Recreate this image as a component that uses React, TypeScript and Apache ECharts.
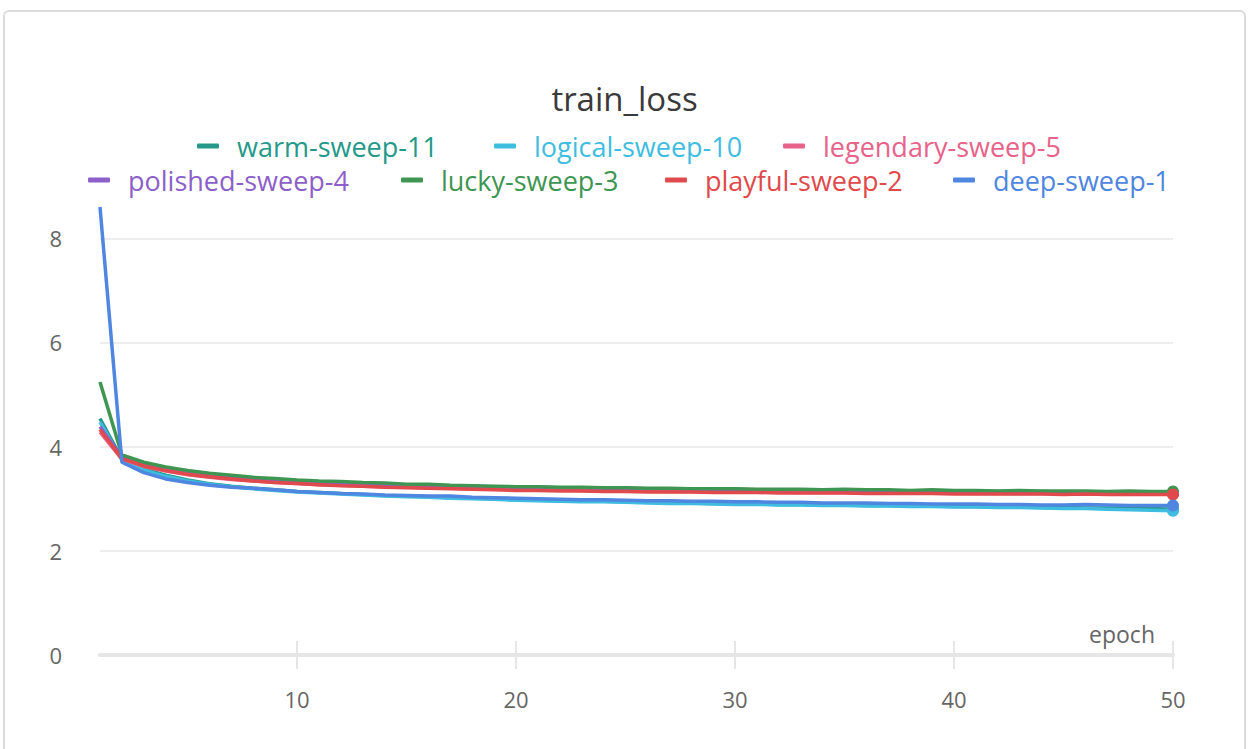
import React, { useEffect, useRef } from "react";
import * as echarts from "echarts";

// Training loss per epoch for each sweep run
const epochs = [
  1, 2, 3, 4, 5, 6, 7, 8, 9, 10, 11, 12, 13, 14, 15, 16, 17, 18, 19, 20, 21, 22, 23, 24, 25,
  26, 27, 28, 29, 30, 31, 32, 33, 34, 35, 36, 37, 38, 39, 40, 41, 42, 43, 44, 45, 46, 47, 48, 49, 50,
];

const warmSweep11 = [
  4.54, 3.76, 3.57, 3.45, 3.36, 3.29, 3.24, 3.2, 3.17, 3.14, 3.12, 3.1, 3.08, 3.06, 3.05, 3.04, 3.02,
  3.01, 3.0, 2.98, 2.97, 2.96, 2.95, 2.95, 2.94, 2.93, 2.92, 2.92, 2.91, 2.9, 2.9, 2.89, 2.89, 2.88,
  2.88, 2.87, 2.87, 2.86, 2.86, 2.85, 2.85, 2.84, 2.84, 2.83, 2.83, 2.82, 2.82, 2.81, 2.81, 2.8,
];
const logicalSweep10 = [
  4.47, 3.74, 3.55, 3.43, 3.34, 3.28, 3.23, 3.19, 3.16, 3.13, 3.11, 3.09, 3.07, 3.05, 3.04, 3.03, 3.01,
  3.0, 2.99, 2.97, 2.96, 2.95, 2.94, 2.94, 2.93, 2.92, 2.91, 2.91, 2.9, 2.89, 2.89, 2.88, 2.88, 2.87,
  2.87, 2.86, 2.86, 2.85, 2.85, 2.84, 2.84, 2.83, 2.83, 2.82, 2.81, 2.81, 2.8, 2.79, 2.78, 2.77,
];
const legendarySweep5 = [
  4.28, 3.76, 3.62, 3.53, 3.46, 3.41, 3.37, 3.34, 3.31, 3.29, 3.27, 3.26, 3.24, 3.23, 3.22, 3.21, 3.2,
  3.19, 3.18, 3.18, 3.17, 3.17, 3.16, 3.16, 3.15, 3.15, 3.14, 3.14, 3.14, 3.13, 3.13, 3.13, 3.12, 3.12,
  3.12, 3.12, 3.11, 3.11, 3.11, 3.11, 3.1, 3.1, 3.1, 3.1, 3.1, 3.09, 3.09, 3.09, 3.09, 3.09,
];
const polishedSweep4 = [
  4.38, 3.8, 3.67, 3.58, 3.51, 3.46, 3.42, 3.39, 3.36, 3.34, 3.32, 3.3, 3.29, 3.28, 3.27, 3.26, 3.25,
  3.24, 3.23, 3.22, 3.22, 3.21, 3.21, 3.2, 3.2, 3.19, 3.19, 3.18, 3.18, 3.18, 3.17, 3.17, 3.17, 3.16,
  3.16, 3.16, 3.15, 3.15, 3.15, 3.14, 3.14, 3.14, 3.13, 3.14, 3.13, 3.13, 3.13, 3.12, 3.12, 3.12,
];
const luckySweep3 = [
  5.24, 3.84, 3.7, 3.61, 3.54, 3.49, 3.45, 3.41, 3.39, 3.36, 3.34, 3.33, 3.31, 3.3, 3.28, 3.28, 3.26,
  3.25, 3.24, 3.23, 3.23, 3.22, 3.22, 3.21, 3.21, 3.2, 3.2, 3.19, 3.19, 3.19, 3.18, 3.18, 3.18, 3.17,
  3.18, 3.17, 3.17, 3.16, 3.17, 3.16, 3.16, 3.15, 3.16, 3.15, 3.15, 3.15, 3.14, 3.15, 3.14, 3.14,
];
const playfulSweep2 = [
  4.33, 3.77, 3.63, 3.54, 3.47, 3.42, 3.38, 3.34, 3.31, 3.29, 3.27, 3.25, 3.24, 3.22, 3.21, 3.2, 3.19,
  3.18, 3.17, 3.16, 3.16, 3.15, 3.15, 3.14, 3.14, 3.13, 3.13, 3.13, 3.12, 3.12, 3.12, 3.11, 3.11, 3.11,
  3.11, 3.1, 3.1, 3.1, 3.1, 3.09, 3.09, 3.09, 3.09, 3.09, 3.08, 3.09, 3.08, 3.08, 3.08, 3.08,
];
const deepSweep1 = [
  8.6, 3.7, 3.5, 3.38, 3.31, 3.26, 3.22, 3.2, 3.17, 3.14, 3.12, 3.1, 3.09, 3.07, 3.06, 3.05, 3.05,
  3.03, 3.02, 3.01, 3.0, 2.99, 2.98, 2.98, 2.97, 2.96, 2.96, 2.95, 2.95, 2.94, 2.94, 2.93, 2.93, 2.92,
  2.92, 2.92, 2.91, 2.91, 2.9, 2.9, 2.9, 2.89, 2.89, 2.88, 2.88, 2.89, 2.88, 2.87, 2.87, 2.87,
];

const runNames = [
  "warm-sweep-11",
  "logical-sweep-10",
  "legendary-sweep-5",
  "polished-sweep-4",
  "lucky-sweep-3",
  "playful-sweep-2",
  "deep-sweep-1",
];
const runValues = [
  warmSweep11,
  logicalSweep10,
  legendarySweep5,
  polishedSweep4,
  luckySweep3,
  playfulSweep2,
  deepSweep1,
];
const runColors = ["#24998a", "#3fbde0", "#e8638a", "#8d5fc9", "#3f9652", "#e04a4c", "#4f86e0"];

const xTicks = [10, 20, 30, 40, 50];
const yTicks = [0, 2, 4, 6, 8];

// legend entry placement (icon left edge, row top)
const legendSpots = [
  [197, 131],
  [494, 131],
  [783, 131],
  [88, 165],
  [401, 165],
  [665, 165],
  [953, 165],
];

const FONT = "'Open Sans', 'Noto Sans', sans-serif";

export default function App() {
  const ref = useRef<HTMLDivElement>(null);

  useEffect(() => {
    if (!ref.current) return;
    const chart = echarts.init(ref.current, undefined, { renderer: "svg" });

    const series = runNames.map((name, i) => {
      const vals = runValues[i];
      return {
        name,
        type: "line",
        color: runColors[i],
        symbol: "none",
        showSymbol: true,
        lineStyle: { width: 3.5, color: runColors[i] },
        itemStyle: { color: runColors[i] },
        z: 2 + i,
        data: vals.map((v, k) =>
          k === vals.length - 1
            ? { value: [epochs[k], v], symbol: "circle", symbolSize: 12 }
            : { value: [epochs[k], v] }
        ),
      };
    });

    const legends = runNames.map((name, i) => ({
      data: [name],
      left: legendSpots[i][0],
      top: legendSpots[i][1],
      padding: 0,
      icon: "roundRect",
      itemWidth: 22,
      itemHeight: 5,
      selectedMode: false,
      textStyle: {
        color: runColors[i],
        fontSize: 27,
        fontFamily: FONT,
        lineHeight: 30,
        padding: [0, 0, 0, 13],
      },
    }));

    chart.setOption({
      animation: false,
      backgroundColor: "transparent",
      textStyle: { fontFamily: FONT },
      title: {
        text: "train_loss",
        left: "center",
        top: 82,
        padding: 0,
        textStyle: { fontSize: 33, fontWeight: "normal", color: "#3a3a3a", fontFamily: FONT },
      },
      legend: legends,
      grid: { left: 100, right: 76, top: 207, bottom: 94 },
      xAxis: [
        {
          type: "value",
          min: 1,
          max: 50,
          name: "epoch",
          nameLocation: "end",
          nameGap: 0,
          nameTextStyle: {
            fontSize: 23,
            color: "#666",
            align: "right",
            verticalAlign: "bottom",
            padding: [0, 18, 10, 0],
          },
          axisLine: { show: true, lineStyle: { color: "#e6e6e6", width: 4 } },
          axisTick: {
            show: true,
            customValues: xTicks,
            length: 14,
            lineStyle: { color: "#e6e6e6", width: 2 },
          },
          axisLabel: { customValues: xTicks, fontSize: 22, color: "#666", margin: 33 },
          splitLine: { show: false },
        },
        {
          type: "value",
          min: 1,
          max: 50,
          position: "bottom",
          offset: 0,
          axisLine: { show: false },
          axisTick: {
            show: true,
            inside: true,
            customValues: xTicks,
            length: 14,
            lineStyle: { color: "#e6e6e6", width: 2 },
          },
          axisLabel: { show: false },
          splitLine: { show: false },
        },
      ],
      yAxis: {
        type: "value",
        min: 0,
        max: 8.6,
        interval: 2,
        axisLine: { show: false },
        axisTick: { show: false },
        axisLabel: { customValues: yTicks, fontSize: 22, color: "#666", margin: 38 },
        splitLine: {
          show: true,
          showMinLine: false,
          showMaxLine: false,
          lineStyle: { color: "#ededed", width: 2 },
        },
      },
      series,
    });

    return () => chart.dispose();
  }, []);

  return (
    <div
      style={{
        position: "fixed",
        left: 0,
        top: 0,
        width: 1249,
        height: 749,
        background: "#fff",
        overflow: "hidden",
      }}
    >
      <div
        style={{
          position: "absolute",
          left: 3,
          top: 10,
          width: 1243,
          height: 800,
          boxSizing: "border-box",
          border: "2px solid #dcdcdc",
          borderRadius: 6,
        }}
      />
      <div ref={ref} style={{ position: "absolute", left: 0, top: 0, width: 1249, height: 749 }} />
    </div>
  );
}
